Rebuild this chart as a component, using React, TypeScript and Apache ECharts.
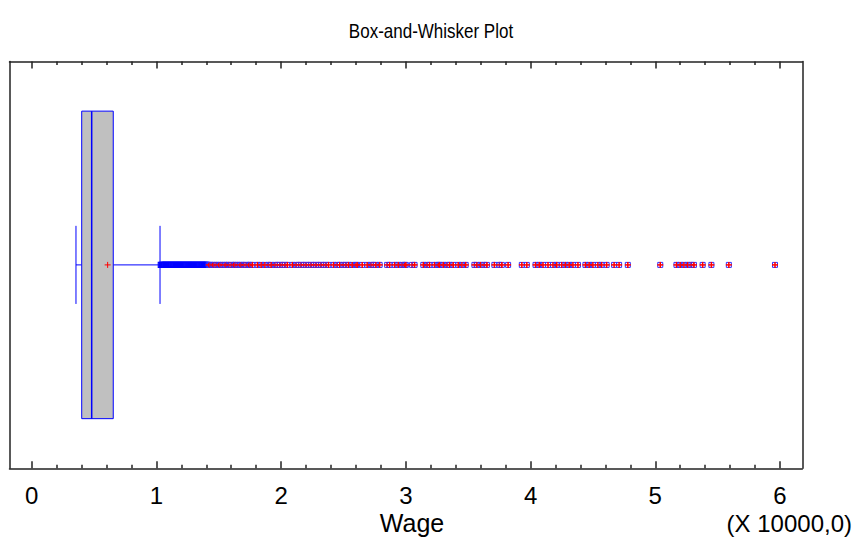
import React, { useEffect, useRef } from "react";
import * as echarts from "echarts";

// ---- texts ----
const chartTitle = "Box-and-Whisker Plot";
const axisTitle = "Wage";
const scaleNote = "(X 10000,0)";

// ---- axis ticks (units of 10000) ----
const majorTicks = [0, 1, 2, 3, 4, 5, 6];
const minorTicks = [
  0.2, 0.4, 0.6, 0.8, 1.2, 1.4, 1.6, 1.8, 2.2, 2.4, 2.6, 2.8,
  3.2, 3.4, 3.6, 3.8, 4.2, 4.4, 4.6, 4.8, 5.2, 5.4, 5.6, 5.8,
];

// ---- box statistics: [lower whisker, Q1, median, Q3, upper whisker] ----
const boxValues = [0.355, 0.401, 0.481, 0.654, 1.029];
const meanValue = [0.609];

// ---- outside points (blue squares) ----
const nearOutliers = [
  1.035, 1.044, 1.052, 1.061, 1.07, 1.078, 1.087, 1.095, 1.104, 1.113,
  1.121, 1.13, 1.139, 1.147, 1.156, 1.165, 1.173, 1.182, 1.19, 1.199,
  1.208, 1.216, 1.225, 1.234, 1.242, 1.251, 1.26, 1.268, 1.277, 1.286,
  1.294, 1.303, 1.312, 1.32, 1.329, 1.338, 1.346, 1.355, 1.364, 1.372,
  1.381, 1.39, 1.398, 1.407,
];

// ---- far outside points (squares with plus sign) ----
const farOutliers = [
  1.42, 1.43, 1.45, 1.46, 1.48, 1.5, 1.51, 1.53, 1.55, 1.56, 1.58, 1.6,
  1.62, 1.63, 1.65, 1.67, 1.68, 1.7, 1.72, 1.74, 1.75, 1.77, 1.81, 1.84,
  1.87, 1.9, 1.92, 1.95, 1.97, 1.99, 2.01, 2.03, 2.05, 2.09, 2.12, 2.14,
  2.16, 2.18, 2.2, 2.22, 2.24, 2.26, 2.28, 2.3, 2.32, 2.34, 2.36, 2.38,
  2.42, 2.45, 2.47, 2.5, 2.52, 2.54, 2.57, 2.6, 2.61, 2.65, 2.69, 2.72,
  2.74, 2.76, 2.79, 2.85, 2.87, 2.91, 2.94, 2.97, 2.99, 3.0, 3.05, 3.07,
  3.14, 3.17, 3.19, 3.23, 3.26, 3.27, 3.3, 3.33, 3.35, 3.38, 3.42, 3.45,
  3.48, 3.55, 3.57, 3.6, 3.63, 3.65, 3.71, 3.75, 3.77, 3.82, 3.93, 3.97,
  4.04, 4.07, 4.1, 4.14, 4.18, 4.21, 4.25, 4.28, 4.31, 4.34, 4.38, 4.44,
  4.47, 4.5, 4.54, 4.57, 4.61, 4.67, 4.71, 4.78, 5.04, 5.17, 5.2, 5.23,
  5.26, 5.29, 5.31, 5.38, 5.45, 5.59, 5.96,
];

// ---- layout / style constants ----
const X_MIN = -0.178;
const X_MAX = 6.179;
const Y_CENTER = 0.5;
const BOX_HALF = 0.378;
const CAP_HALF = 0.096;
const BLUE = "#0000ff";
const RED = "#ff0000";
const FRAME = "#222222";
const FONT = "'Liberation Sans', Arial, Helvetica, sans-serif";

export default function App() {
  const ref = useRef<HTMLDivElement>(null);

  useEffect(() => {
    if (!ref.current) return;
    const chart = echarts.init(ref.current, null, { renderer: "svg" });

    const baseX = (position: string, ticks: number[], len: number, showLine: boolean, showLabel: boolean) => ({
      type: "value",
      min: X_MIN,
      max: X_MAX,
      position,
      axisLine: { show: showLine, onZero: false, lineStyle: { color: FRAME, width: 1.5 } },
      axisTick: {
        show: true,
        inside: true,
        length: len,
        customValues: ticks,
        lineStyle: { color: FRAME, width: 1.5 },
      },
      axisLabel: showLabel
        ? {
            show: true,
            customValues: majorTicks,
            fontSize: 24,
            fontFamily: FONT,
            color: "#000",
            margin: 15,
          }
        : { show: false },
      splitLine: { show: false },
    });

    const baseY = (position: string) => ({
      type: "value",
      min: 0,
      max: 1,
      position,
      axisLine: { show: true, onZero: false, lineStyle: { color: FRAME, width: 1.5 } },
      axisTick: { show: false },
      axisLabel: { show: false },
      splitLine: { show: false },
    });

    const option: any = {
      animation: false,
      backgroundColor: "#ffffff",
      grid: { left: 9.5, right: 55.7, top: 61.5, bottom: 69.7, containLabel: false },
      xAxis: [
        baseX("bottom", majorTicks, 7, true, true),
        baseX("bottom", minorTicks, 3.5, false, false),
        baseX("top", majorTicks, 7, true, false),
        baseX("top", minorTicks, 3.5, false, false),
      ],
      yAxis: [baseY("left"), baseY("right")],
      graphic: [
        {
          type: "text",
          x: 431,
          y: 31,
          scaleY: 1.2,
          style: {
            text: chartTitle,
            fontSize: 17,
            fontFamily: FONT,
            fill: "#000",
            textAlign: "center",
            textVerticalAlign: "middle",
          },
        },
        {
          type: "text",
          x: 412,
          y: 523,
          style: {
            text: axisTitle,
            fontSize: 25,
            fontFamily: FONT,
            fill: "#000",
            textAlign: "center",
            textVerticalAlign: "middle",
          },
        },
        {
          type: "text",
          x: 852,
          y: 523,
          style: {
            text: scaleNote,
            fontSize: 24,
            fontFamily: FONT,
            fill: "#000",
            textAlign: "right",
            textVerticalAlign: "middle",
          },
        },
      ],
      series: [
        {
          type: "custom",
          name: "box",
          xAxisIndex: 0,
          yAxisIndex: 0,
          data: [boxValues],
          encode: { x: [0, 1, 2, 3, 4] },
          renderItem: (params: any, api: any) => {
            const lo = api.value(0);
            const q1 = api.value(1);
            const med = api.value(2);
            const q3 = api.value(3);
            const hi = api.value(4);
            const pQ1Top = api.coord([q1, Y_CENTER + BOX_HALF]);
            const pQ3Bot = api.coord([q3, Y_CENTER - BOX_HALF]);
            const pMedTop = api.coord([med, Y_CENTER + BOX_HALF]);
            const pMedBot = api.coord([med, Y_CENTER - BOX_HALF]);
            const pLo = api.coord([lo, Y_CENTER]);
            const pHi = api.coord([hi, Y_CENTER]);
            const pQ1 = api.coord([q1, Y_CENTER]);
            const pQ3 = api.coord([q3, Y_CENTER]);
            const capTop = api.coord([lo, Y_CENTER + CAP_HALF])[1];
            const capBot = api.coord([lo, Y_CENTER - CAP_HALF])[1];
            const lineStyle = { stroke: BLUE, lineWidth: 1, fill: "none" };
            return {
              type: "group",
              children: [
                {
                  type: "line",
                  shape: { x1: pLo[0], y1: pLo[1], x2: pQ1[0], y2: pQ1[1] },
                  style: lineStyle,
                },
                {
                  type: "line",
                  shape: { x1: pQ3[0], y1: pQ3[1], x2: pHi[0], y2: pHi[1] },
                  style: lineStyle,
                },
                {
                  type: "line",
                  shape: { x1: pLo[0], y1: capTop, x2: pLo[0], y2: capBot },
                  style: lineStyle,
                },
                {
                  type: "line",
                  shape: { x1: pHi[0], y1: capTop, x2: pHi[0], y2: capBot },
                  style: lineStyle,
                },
                {
                  type: "rect",
                  shape: {
                    x: pQ1Top[0],
                    y: pQ1Top[1],
                    width: pQ3Bot[0] - pQ1Top[0],
                    height: pQ3Bot[1] - pQ1Top[1],
                  },
                  style: { fill: "#c0c0c0", stroke: BLUE, lineWidth: 1 },
                },
                {
                  type: "line",
                  shape: { x1: pMedTop[0], y1: pMedTop[1], x2: pMedBot[0], y2: pMedBot[1] },
                  style: { stroke: BLUE, lineWidth: 1.5 },
                },
              ],
            };
          },
          z: 2,
        },
        {
          type: "custom",
          name: "mean",
          xAxisIndex: 0,
          yAxisIndex: 0,
          data: meanValue.map((v) => [v, Y_CENTER]),
          renderItem: (params: any, api: any) => {
            const p = api.coord([api.value(0), api.value(1)]);
            const r = 3;
            return {
              type: "group",
              children: [
                { type: "line", shape: { x1: p[0] - r, y1: p[1], x2: p[0] + r, y2: p[1] }, style: { stroke: RED, lineWidth: 1 } },
                { type: "line", shape: { x1: p[0], y1: p[1] - r, x2: p[0], y2: p[1] + r }, style: { stroke: RED, lineWidth: 1 } },
              ],
            };
          },
          z: 3,
        },
        {
          type: "custom",
          name: "outside",
          xAxisIndex: 0,
          yAxisIndex: 0,
          data: nearOutliers.map((v) => [v, Y_CENTER]),
          renderItem: (params: any, api: any) => {
            const p = api.coord([api.value(0), api.value(1)]);
            return {
              type: "rect",
              shape: { x: p[0] - 2.5, y: p[1] - 2.5, width: 5, height: 5 },
              style: { fill: "none", stroke: BLUE, lineWidth: 1.2 },
            };
          },
          z: 3,
        },
        {
          type: "custom",
          name: "farOutside",
          xAxisIndex: 0,
          yAxisIndex: 0,
          data: farOutliers.map((v) => [v, Y_CENTER]),
          renderItem: (params: any, api: any) => {
            const p = api.coord([api.value(0), api.value(1)]);
            return {
              type: "group",
              children: [
                {
                  type: "rect",
                  shape: { x: p[0] - 2.5, y: p[1] - 2.5, width: 5, height: 5 },
                  style: { fill: "none", stroke: "#3030ff", lineWidth: 1 },
                },
                { type: "line", shape: { x1: p[0] - 3, y1: p[1], x2: p[0] + 3, y2: p[1] }, style: { stroke: RED, lineWidth: 1.5 } },
                { type: "line", shape: { x1: p[0], y1: p[1] - 3, x2: p[0], y2: p[1] + 3 }, style: { stroke: RED, lineWidth: 1.5 } },
              ],
            };
          },
          z: 4,
        },
      ],
    };

    chart.setOption(option);
    return () => {
      chart.dispose();
    };
  }, []);

  return (
    <div
      ref={ref}
      style={{ position: "fixed", left: 0, top: 0, width: 858, height: 538, background: "#ffffff" }}
    />
  );
}
